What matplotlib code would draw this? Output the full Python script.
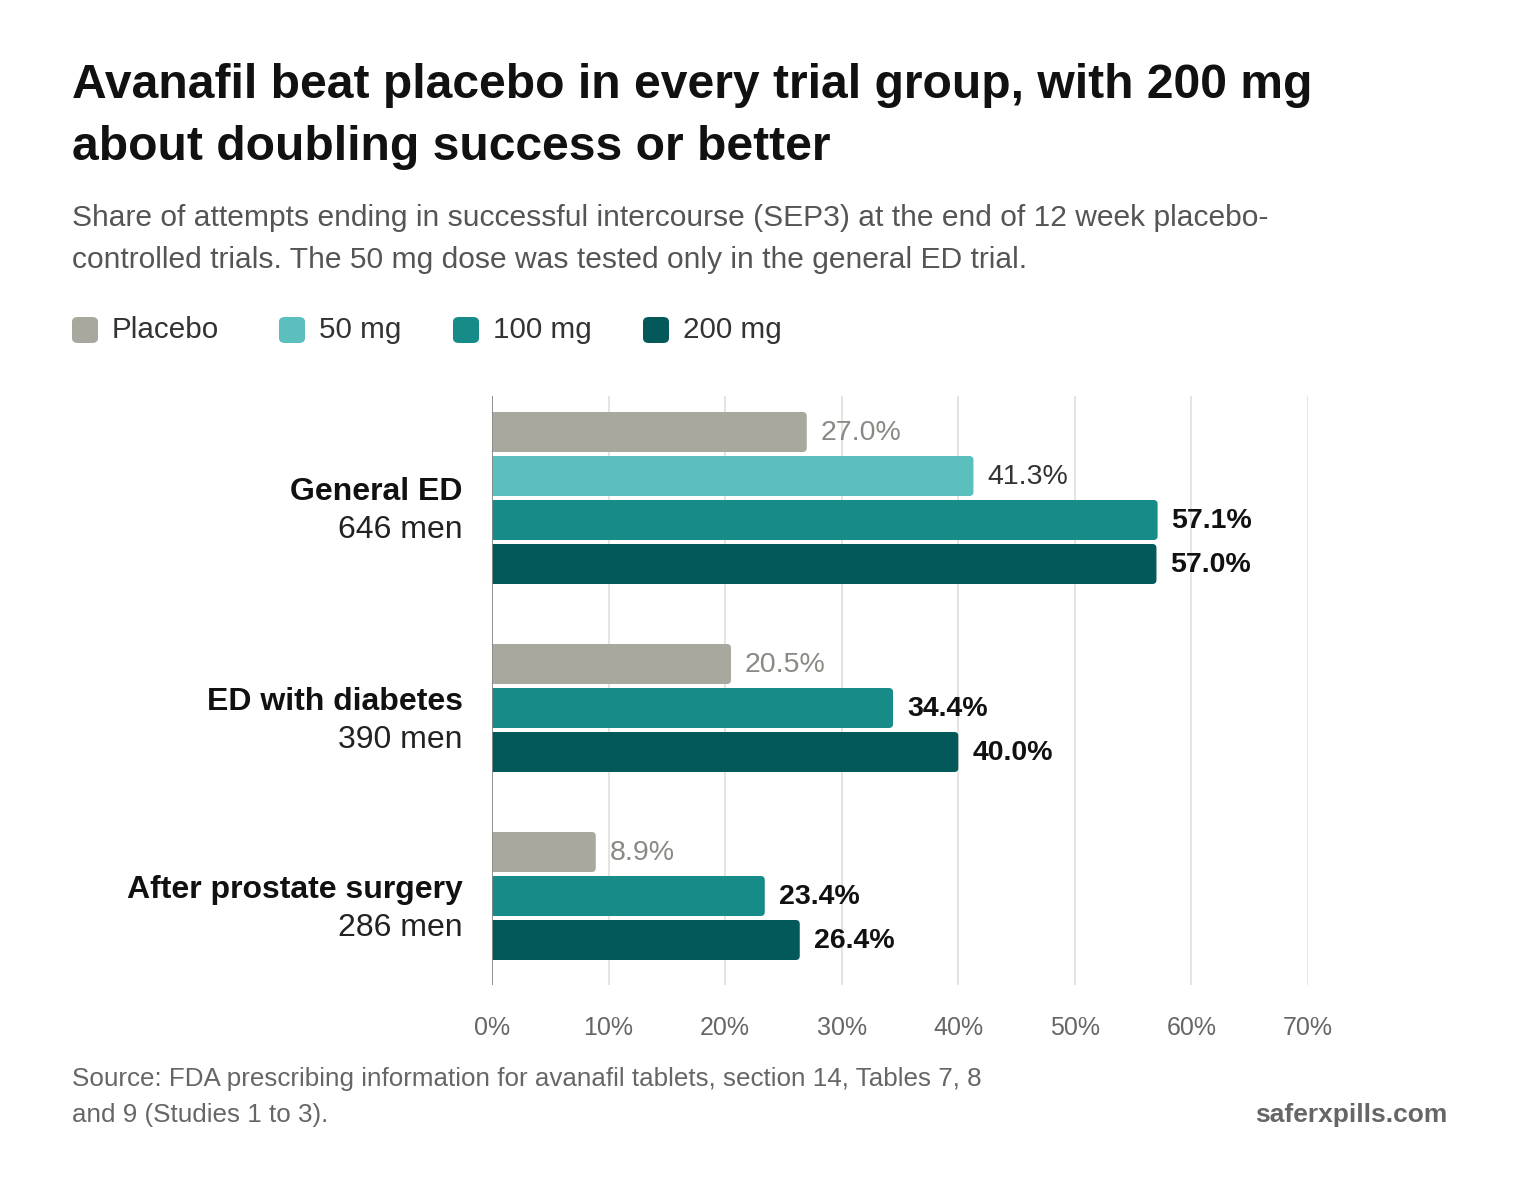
import matplotlib
matplotlib.use("Agg")
import matplotlib.pyplot as plt
from matplotlib.patches import FancyBboxPatch, Rectangle

plt.rcParams['font.family'] = ['Liberation Sans', 'DejaVu Sans']

groups = ["General ED", "ED with diabetes", "After prostate surgery"]
group_n = ["646 men", "390 men", "286 men"]
series = ["Placebo", "50 mg", "100 mg", "200 mg"]
colors = ["#a8a89f", "#5bbfbd", "#178b87", "#03585a"]
values = [
    [27.0, 41.3, 57.1, 57.0],
    [20.5, None, 34.4, 40.0],
    [8.9, None, 23.4, 26.4],
]
ticks = [0, 10, 20, 30, 40, 50, 60, 70]

W, H = 1520, 1188
fig = plt.figure(figsize=(W/100, H/100), dpi=100)
ax = fig.add_axes([492/W, 1-985/H, 816/W, 589/H])
ax.set_xlim(0, 70)
ax.set_ylim(985, 396)
for s in ax.spines.values():
    s.set_visible(False)
ax.set_yticks([])
ax.set_xticks(ticks)
ax.set_xticklabels([f"{t}%" for t in ticks], fontsize=18, color="#666666")
ax.tick_params(axis='x', length=0, pad=22)
for t in ticks[1:]:
    ax.axvline(t, color="#e3e3dc", lw=1.3, zorder=0)
ax.axvline(0, color="#888888", lw=1.3, zorder=3)

step, gap, bh = 44, 100, 40
y = 432
rs = 0.35
for gi, g in enumerate(groups):
    ys = []
    for si, v in enumerate(values[gi]):
        if v is None:
            continue
        p = FancyBboxPatch((0, y - bh/2), v, bh,
                           boxstyle=f"round,pad=0,rounding_size={rs}",
                           mutation_aspect=4/rs, fc=colors[si], ec="none", zorder=2)
        ax.add_patch(p)
        ax.add_patch(Rectangle((0, y - bh/2), 1, bh, fc=colors[si], ec="none", zorder=2))
        if si == 0:
            kw = dict(color="#8a8a84", fontweight="normal")
        elif si == 1:
            kw = dict(color="#333333", fontweight="normal")
        else:
            kw = dict(color="#111111", fontweight="bold")
        ax.text(v + 1.2, y + 1, f"{v:.1f}%", va="center", ha="left", fontsize=20.5, **kw)
        ys.append(y)
        y += step
    yc = (ys[0] + ys[-1]) / 2
    ax.text(-2.5, yc + 2, g, ha="right", va="baseline", fontsize=23, fontweight="bold", color="#111111")
    ax.text(-2.5, yc + 40, group_n[gi], ha="right", va="baseline", fontsize=23, color="#222222")
    y += gap - step

fig.text(72/W, 1-85/H, "Avanafil beat placebo in every trial group, with 200 mg",
         fontsize=34.6, fontweight="bold", color="#111111", va="center", ha="left")
fig.text(72/W, 1-147/H, "about doubling success or better",
         fontsize=34.6, fontweight="bold", color="#111111", va="center", ha="left")
fig.text(72/W, 1-218/H, "Share of attempts ending in successful intercourse (SEP3) at the end of 12 week placebo-",
         fontsize=21.6, color="#555555", va="center", ha="left")
fig.text(72/W, 1-260/H, "controlled trials. The 50 mg dose was tested only in the general ED trial.",
         fontsize=21.6, color="#555555", va="center", ha="left")

lx = [72, 279, 453, 643]
for i, s in enumerate(series):
    fig.patches.append(FancyBboxPatch((lx[i]/W, 1-343/H), 26/W, 26/H,
                       boxstyle="round,pad=0,rounding_size=0.004", fc=colors[i], ec="none",
                       transform=fig.transFigure, figure=fig))
    fig.text((lx[i]+40)/W, 1-330/H, s, fontsize=21.3, color="#333333", va="center", ha="left")

fig.text(72/W, 1-1079/H, "Source: FDA prescribing information for avanafil tablets, section 14, Tables 7, 8",
         fontsize=18.7, color="#666666", va="center", ha="left")
fig.text(72/W, 1-1115/H, "and 9 (Studies 1 to 3).",
         fontsize=18.7, color="#666666", va="center", ha="left")
fig.text(1447/W, 1-1115/H, "saferxpills.com", fontsize=19, fontweight="bold", color="#666666", va="center", ha="right")

fig.savefig("out.png", dpi=100, facecolor="white")
